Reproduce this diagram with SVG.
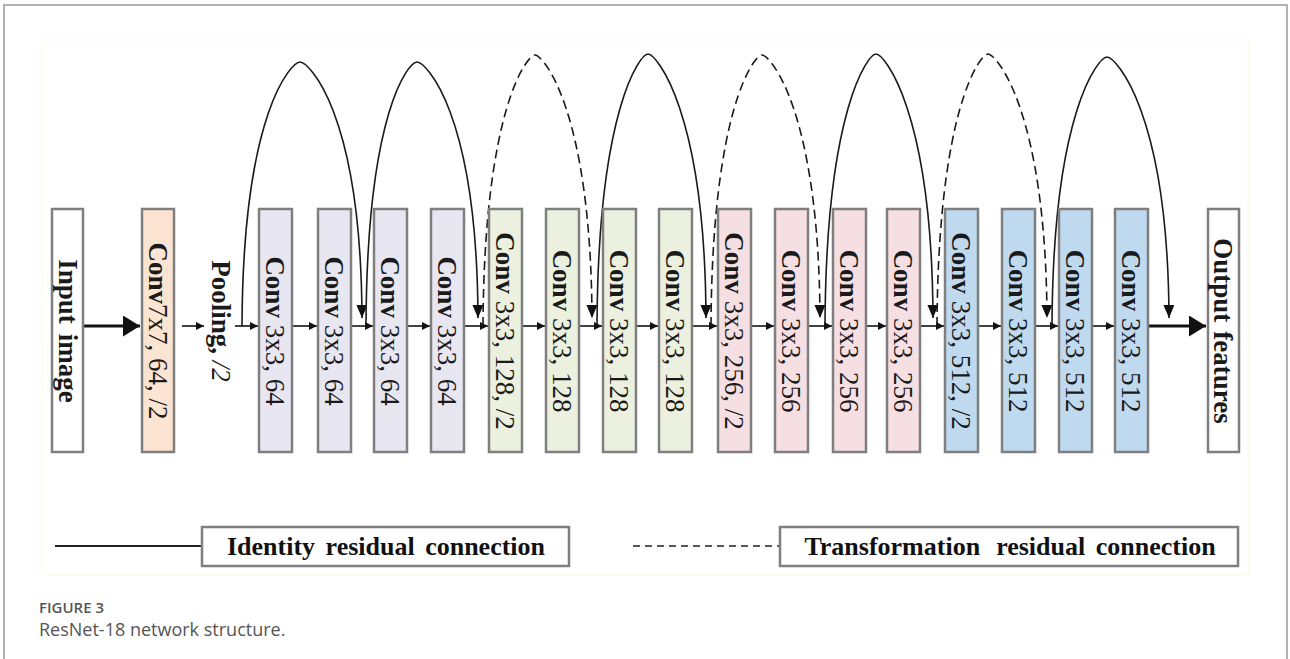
<svg xmlns="http://www.w3.org/2000/svg" width="1290" height="659" viewBox="0 0 1290 659">
<style>
.box{stroke:#7f7f7f;stroke-width:2.5}
.t{font-family:"Liberation Serif","Times New Roman",serif;font-size:27px;fill:#1a1a1a}
.b{font-weight:bold}
.i{font-style:italic}
.arc{fill:none;stroke:#1a1a1a;stroke-width:1.6;marker-end:url(#ah)}
.dash{stroke-dasharray:9 5}
.flow{stroke:#111;stroke-width:1.6;marker-end:url(#sm)}
.big{stroke:#111;stroke-width:3;marker-end:url(#bg)}
.c64{fill:#e8e7f1}
.c128{fill:#ebf0df}
.c256{fill:#f6dfe3}
.c512{fill:#bfd9ef}
.leg{font-family:"Liberation Serif","Times New Roman",serif;font-size:26px;font-weight:bold;fill:#111}
.cap{font-family:"Open Sans","Noto Sans",sans-serif;fill:#555}
</style>
<defs>
<marker id="ah" markerUnits="userSpaceOnUse" viewBox="0 0 13 11" refX="13" refY="5.5" markerWidth="13" markerHeight="11" orient="auto"><path d="M0,0 L13,5.5 L0,11 z" fill="#111"/></marker>
<marker id="sm" markerUnits="userSpaceOnUse" viewBox="0 0 8 8" refX="8" refY="4" markerWidth="8" markerHeight="8" orient="auto"><path d="M0,0 L8,4 L0,8 z" fill="#111"/></marker>
<marker id="bg" markerUnits="userSpaceOnUse" viewBox="0 0 17 21" refX="17" refY="10.5" markerWidth="17" markerHeight="21" orient="auto"><path d="M0,0 L17,10.5 L0,21 z" fill="#111"/></marker>
</defs>
<rect x="0" y="0" width="1290" height="659" fill="#fff"/>
<rect x="4" y="5" width="1283" height="700" fill="none" stroke="#9a9a9a" stroke-width="1.5"/>
<rect x="42" y="40" width="1206" height="535" fill="none" stroke="#fbf8dc" stroke-width="1"/>

<g id="connectors">
<line class="big" x1="83" y1="326" x2="140" y2="326"/>
<line class="flow" x1="182" y1="326" x2="204" y2="326"/>
<line class="flow" x1="235" y1="326" x2="258" y2="326"/>
<line class="flow" x1="292" y1="326" x2="317" y2="326"/>
<line class="flow" x1="351" y1="326" x2="373" y2="326"/>
<line class="flow" x1="407" y1="326" x2="430" y2="326"/>
<line class="flow" x1="464" y1="326" x2="488" y2="326"/>
<line class="flow" x1="522" y1="326" x2="545" y2="326"/>
<line class="flow" x1="579" y1="326" x2="602" y2="326"/>
<line class="flow" x1="636" y1="326" x2="658" y2="326"/>
<line class="flow" x1="692" y1="326" x2="717" y2="326"/>
<line class="flow" x1="751" y1="326" x2="774" y2="326"/>
<line class="flow" x1="808" y1="326" x2="832" y2="326"/>
<line class="flow" x1="866" y1="326" x2="886" y2="326"/>
<line class="flow" x1="920" y1="326" x2="944" y2="326"/>
<line class="flow" x1="978" y1="326" x2="1001" y2="326"/>
<line class="flow" x1="1035" y1="326" x2="1058" y2="326"/>
<line class="flow" x1="1092" y1="326" x2="1114" y2="326"/>
<line class="big" x1="1148" y1="326" x2="1206" y2="326"/>
<path class="arc" d="M242,326 C243,110 292,62 300,62 C308,62 361,110 362,318"/>
<path class="arc" d="M366,326 C367,110 409,62 417,62 C425,62 477,110 478,318"/>
<path class="arc dash" d="M483,326 C484,110 527,55 535,55 C543,55 591,110 592,318"/>
<path class="arc" d="M597,326 C598,110 640,54 648,54 C656,54 705,110 706,318"/>
<path class="arc dash" d="M711,326 C712,110 754,55 762,55 C770,55 819,110 820,318"/>
<path class="arc" d="M825,326 C826,110 868,54 876,54 C884,54 932,110 933,318"/>
<path class="arc dash" d="M937,326 C938,110 980,54 988,54 C996,54 1046,110 1047,318"/>
<path class="arc" d="M1052,326 C1053,110 1099,57 1107,57 C1115,57 1168,110 1169,318"/>
</g>

<g id="input"><rect class="box" x="52" y="209" width="31" height="243" fill="#fff"/><text class="t b" transform="translate(59,331) rotate(90)" text-anchor="middle">Input<tspan dx="10">image</tspan></text></g>
<g id="conv7"><rect class="box" x="142" y="209" width="32" height="243" fill="#fbe4d2"/><text class="t" transform="translate(149,331) rotate(90)" text-anchor="middle"><tspan class="b">Conv</tspan>7x7, 64, /2</text></g>
<g id="pooling"><text class="t" transform="translate(212,321) rotate(90)" text-anchor="middle"><tspan class="b">Pooling,</tspan> <tspan class="i">/2</tspan></text></g>
<g id="c1"><rect class="box c64" x="259" y="209" width="33" height="243"/><text class="t" transform="translate(266,331) rotate(90)" text-anchor="middle"><tspan class="b">Conv</tspan> 3x3, 64</text></g>
<g id="c2"><rect class="box c64" x="318" y="209" width="33" height="243"/><text class="t" transform="translate(325,331) rotate(90)" text-anchor="middle"><tspan class="b">Conv</tspan> 3x3, 64</text></g>
<g id="c3"><rect class="box c64" x="374" y="209" width="33" height="243"/><text class="t" transform="translate(381,331) rotate(90)" text-anchor="middle"><tspan class="b">Conv</tspan> 3x3, 64</text></g>
<g id="c4"><rect class="box c64" x="431" y="209" width="33" height="243"/><text class="t" transform="translate(438,331) rotate(90)" text-anchor="middle"><tspan class="b">Conv</tspan> 3x3, 64</text></g>
<g id="c5"><rect class="box c128" x="489" y="209" width="33" height="243"/><text class="t" transform="translate(496,331) rotate(90)" text-anchor="middle"><tspan class="b">Conv</tspan> 3x3, 128, /2</text></g>
<g id="c6"><rect class="box c128" x="546" y="209" width="33" height="243"/><text class="t" transform="translate(553,331) rotate(90)" text-anchor="middle"><tspan class="b">Conv</tspan> 3x3, 128</text></g>
<g id="c7"><rect class="box c128" x="603" y="209" width="33" height="243"/><text class="t" transform="translate(610,331) rotate(90)" text-anchor="middle"><tspan class="b">Conv</tspan> 3x3, 128</text></g>
<g id="c8"><rect class="box c128" x="659" y="209" width="33" height="243"/><text class="t" transform="translate(666,331) rotate(90)" text-anchor="middle"><tspan class="b">Conv</tspan> 3x3, 128</text></g>
<g id="c9"><rect class="box c256" x="718" y="209" width="33" height="243"/><text class="t" transform="translate(725,331) rotate(90)" text-anchor="middle"><tspan class="b">Conv</tspan> 3x3, 256, /2</text></g>
<g id="c10"><rect class="box c256" x="775" y="209" width="33" height="243"/><text class="t" transform="translate(782,331) rotate(90)" text-anchor="middle"><tspan class="b">Conv</tspan> 3x3, 256</text></g>
<g id="c11"><rect class="box c256" x="833" y="209" width="33" height="243"/><text class="t" transform="translate(840,331) rotate(90)" text-anchor="middle"><tspan class="b">Conv</tspan> 3x3, 256</text></g>
<g id="c12"><rect class="box c256" x="887" y="209" width="33" height="243"/><text class="t" transform="translate(894,331) rotate(90)" text-anchor="middle"><tspan class="b">Conv</tspan> 3x3, 256</text></g>
<g id="c13"><rect class="box c512" x="945" y="209" width="33" height="243"/><text class="t" transform="translate(952,331) rotate(90)" text-anchor="middle"><tspan class="b">Conv</tspan> 3x3, 512, /2</text></g>
<g id="c14"><rect class="box c512" x="1002" y="209" width="33" height="243"/><text class="t" transform="translate(1009,331) rotate(90)" text-anchor="middle"><tspan class="b">Conv</tspan> 3x3, 512</text></g>
<g id="c15"><rect class="box c512" x="1059" y="209" width="33" height="243"/><text class="t" transform="translate(1066,331) rotate(90)" text-anchor="middle"><tspan class="b">Conv</tspan> 3x3, 512</text></g>
<g id="c16"><rect class="box c512" x="1115" y="209" width="33" height="243"/><text class="t" transform="translate(1122,331) rotate(90)" text-anchor="middle"><tspan class="b">Conv</tspan> 3x3, 512</text></g>
<g id="output"><rect class="box" x="1208" y="209" width="31" height="243" fill="#fff"/><text class="t b" transform="translate(1214,331) rotate(90)" text-anchor="middle">Output<tspan dx="9">features</tspan></text></g>

<g id="legend-identity">
<line x1="55" y1="546" x2="202" y2="546" stroke="#222" stroke-width="2"/>
<rect x="202" y="527" width="367" height="39" fill="#fff" stroke="#7f7f7f" stroke-width="2.5"/>
<text class="leg" x="386" y="555" text-anchor="middle" word-spacing="4">Identity residual connection</text>
</g>
<g id="legend-transform">
<line x1="633" y1="546" x2="780" y2="546" stroke="#222" stroke-width="1.6" stroke-dasharray="7 5"/>
<rect x="780" y="527" width="458" height="39" fill="#fff" stroke="#7f7f7f" stroke-width="2.5"/>
<text class="leg" x="1010" y="555" text-anchor="middle" word-spacing="4">Transformation<tspan dx="16">residual connection</tspan></text>
</g>
<g id="caption">
<text class="cap" x="39" y="613" font-size="15" font-weight="600">FIGURE 3</text>
<text class="cap" x="39" y="636" font-size="18">ResNet-18 network structure.</text>
</g>
</svg>
